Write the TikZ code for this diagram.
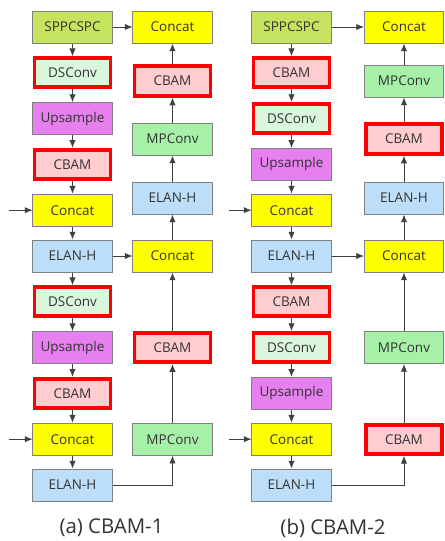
\documentclass[tikz,border=0pt]{standalone}
\usepackage{fontspec}
\setmainfont{Open Sans}
\usetikzlibrary{arrows.meta}
\definecolor{sppcgreen}{RGB}{197,227,95}
\definecolor{concatyellow}{RGB}{255,255,0}
\definecolor{dsgreen}{RGB}{218,246,220}
\definecolor{upviolet}{RGB}{230,128,238}
\definecolor{cbampink}{RGB}{255,204,208}
\definecolor{elanblue}{RGB}{189,222,248}
\definecolor{mpgreen}{RGB}{166,240,168}
\definecolor{boxgray}{RGB}{128,128,128}
\definecolor{linegray}{RGB}{64,64,64}
\tikzset{
  blk/.style={draw=boxgray, line width=0.7pt, minimum width=1.975cm, minimum height=0.8cm,
    inner sep=0pt, font=\fontsize{9.6}{12}\selectfont, text=black!80},
  redframe/.style={draw=red, line width=2.8pt, minimum width=1.9cm, minimum height=0.73cm},
  sppc/.style={blk, fill=sppcgreen},
  cat/.style={blk, fill=concatyellow},
  ds/.style={blk, fill=dsgreen, redframe},
  up/.style={blk, fill=upviolet},
  cbam/.style={blk, fill=cbampink, redframe},
  elan/.style={blk, fill=elanblue},
  mp/.style={blk, fill=mpgreen},
  flow/.style={draw=linegray, line width=0.6pt, -{Latex[length=5.5pt,width=4.5pt]}},
  subcap/.style={font=\fontsize{14.5}{16}\selectfont, text=black!80}
}

\begin{document}
\begin{tikzpicture}[x=0.025cm, y=-0.025cm]
\useasboundingbox (0,0) rectangle (445,541);

% (a) CBAM-1, left column
\node [sppc] (a1) at (72.5,27) {SPPCSPC};
\node [ds] (a2) at (72.5,72.8) {DSConv};
\node [up] (a3) at (72.5,118.6) {Upsample};
\node [cbam] (a4) at (72.5,164.4) {CBAM};
\node [cat] (a5) at (72.5,210.2) {Concat};
\node [elan] (a6) at (72.5,256) {ELAN-H};
\node [ds] (a7) at (72.5,301.8) {DSConv};
\node [up] (a8) at (72.5,347.6) {Upsample};
\node [cbam] (a9) at (72.5,393.4) {CBAM};
\node [cat] (a10) at (72.5,439.2) {Concat};
\node [elan] (a11) at (72.5,485) {ELAN-H};
% (a) right column
\node [cat] (ra1) at (172.5,27) {Concat};
\node [cbam] (ra2) at (172.5,81) {CBAM};
\node [mp] (ra3) at (172.5,139) {MPConv};
\node [elan] (ra4) at (172.5,198) {ELAN-H};
\node [cat] (ra5) at (172.5,256) {Concat};
\node [cbam] (ra6) at (172.5,347.5) {CBAM};
\node [mp] (ra7) at (172.5,439.2) {MPConv};

% (b) CBAM-2, left column
\node [sppc] (b1) at (291.5,27) {SPPCSPC};
\node [cbam] (b2) at (291.5,72.8) {CBAM};
\node [ds] (b3) at (291.5,118.6) {DSConv};
\node [up] (b4) at (291.5,164.4) {Upsample};
\node [cat] (b5) at (291.5,210.2) {Concat};
\node [elan] (b6) at (291.5,256) {ELAN-H};
\node [cbam] (b7) at (291.5,301.8) {CBAM};
\node [ds] (b8) at (291.5,347.6) {DSConv};
\node [up] (b9) at (291.5,393.4) {Upsample};
\node [cat] (b10) at (291.5,439.2) {Concat};
\node [elan] (b11) at (291.5,485) {ELAN-H};
% (b) right column
\node [cat] (rb1) at (404,27) {Concat};
\node [mp] (rb2) at (404,81) {MPConv};
\node [cbam] (rb3) at (404,139) {CBAM};
\node [elan] (rb4) at (404,198) {ELAN-H};
\node [cat] (rb5) at (404,256) {Concat};
\node [mp] (rb6) at (404,347.5) {MPConv};
\node [cbam] (rb7) at (404,439.2) {CBAM};

% outside inputs
\coordinate (ina1) at (9,210.2);
\coordinate (ina2) at (9,439.2);
\coordinate (inb1) at (229,210.2);
\coordinate (inb2) at (229,439.2);

% top-down path
\foreach \s/\t in {a1/a2,a2/a3,a3/a4,a4/a5,a5/a6,a6/a7,a7/a8,a8/a9,a9/a10,a10/a11,
                   b1/b2,b2/b3,b3/b4,b4/b5,b5/b6,b6/b7,b7/b8,b8/b9,b9/b10,b10/b11}
  \draw [flow] (\s) -- (\t);
% bottom-up path
\foreach \s/\t in {ra7/ra6,ra6/ra5,ra5/ra4,ra4/ra3,ra3/ra2,ra2/ra1,
                   rb7/rb6,rb6/rb5,rb5/rb4,rb4/rb3,rb3/rb2,rb2/rb1}
  \draw [flow] (\s) -- (\t);
% lateral links
\draw [flow] (a1) -- (ra1);
\draw [flow] (a6) -- (ra5);
\draw [flow] (a11.east) -| (ra7.south);
\draw [flow] (b1) -- (rb1);
\draw [flow] (b6) -- (rb5);
\draw [flow] (b11.east) -| (rb7.south);
\draw [flow] (ina1) -- (a5);
\draw [flow] (ina2) -- (a10);
\draw [flow] (inb1) -- (b5);
\draw [flow] (inb2) -- (b10);

\node [subcap] (capa) at (111.5,528) {(a) CBAM-1};
\node [subcap] (capb) at (333,528) {(b) CBAM-2};
\end{tikzpicture}
\end{document}
